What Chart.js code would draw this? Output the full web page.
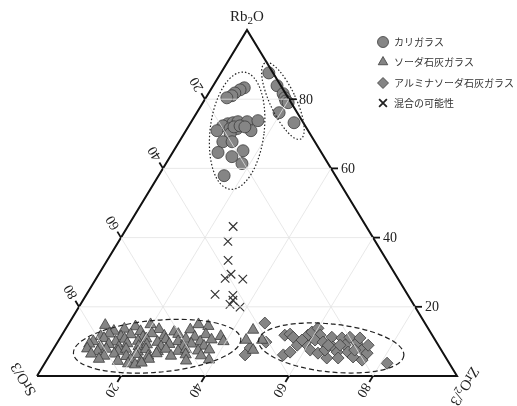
<!DOCTYPE html>
<html>
<head>
<meta charset="utf-8">
<script src="https://cdn.jsdelivr.net/npm/chart.js@4.4.0/dist/chart.umd.min.js"></script>
<style>
  html, body { margin: 0; padding: 0; background: #fff; }
  #wrap { width: 517px; height: 406px; }
</style>
</head>
<body>
<div id="wrap"><canvas id="ternary" width="517" height="406"></canvas></div>
<script>
// ternary data: each point is [Rb2O, ZrO2/3] in %, SrO/3 = 100 - both
const categories = ['カリガラス', 'ソーダ石灰ガラス', 'アルミナソーダ石灰ガラス', '混合の可能性'];
const ticks = [20, 40, 60, 80];

const potashGlass = [
  [87.6, 11.4], [83.9, 15.2], [81.6, 17.8], [80.4, 18.8], [79.5, 19.5], [79.0, 20.3], [76.1, 19.6], [73.2, 24.6],
  [83.3, 7.7], [82.7, 7.0], [81.8, 6.2], [81.0, 5.9], [80.4, 5.0],
  [72.9, 9.0], [72.3, 8.1], [73.2, 10.1], [73.5, 11.1], [73.5, 13.3], [73.8, 15.7],
  [70.9, 7.4], [71.5, 10.2], [71.5, 11.9], [70.9, 15.5], [70.0, 11.0],
  [72.0, 10.9], [72.3, 12.2], [72.0, 13.5],
  [67.7, 10.4], [67.7, 12.6], [65.1, 16.5], [64.6, 10.8], [63.4, 14.7], [61.4, 18.1], [57.9, 15.6]
];

const sodaLimeGlass = [
  [14.7, 8.9], [14.3, 16.3], [14.9, 19.6], [14.9, 31.0], [14.4, 33.6],
  [13.0, 11.8], [13.6, 14.0], [12.9, 18.2], [13.5, 22.3], [12.8, 26.3], [13.4, 29.8],
  [11.5, 9.4], [12.2, 11.1], [11.4, 14.3], [12.0, 16.3], [11.3, 19.6], [12.3, 21.2], [11.6, 24.5],
  [12.1, 27.6], [11.3, 31.9], [12.0, 34.2], [11.5, 38.0],
  [10.0, 8.4], [10.9, 10.5], [9.9, 13.8], [10.7, 15.5], [10.1, 19.0], [10.8, 20.6], [9.8, 23.8],
  [10.6, 25.4], [10.0, 28.6], [10.7, 30.1], [9.9, 33.9], [10.5, 36.3], [10.0, 39.4],
  [9.3, 7.8], [8.5, 10.9], [9.2, 12.5], [8.4, 15.3], [9.4, 16.8], [8.6, 19.9], [9.1, 21.6],
  [8.5, 25.3], [9.2, 26.9], [8.6, 30.5], [9.3, 32.1], [8.7, 35.4],
  [7.9, 8.0], [7.1, 10.9], [7.8, 12.6], [7.2, 15.7], [7.8, 17.3], [7.0, 20.5], [7.7, 22.1],
  [7.1, 25.2], [7.8, 26.8], [7.2, 30.0], [7.7, 31.6], [7.3, 34.7], [7.6, 37.2],
  [6.4, 9.7], [5.8, 13.1], [6.4, 15.2], [5.7, 18.4], [6.3, 20.4], [5.8, 23.6], [6.5, 25.2],
  [5.8, 29.0], [6.2, 32.3], [5.9, 36.1],
  [4.9, 12.3], [4.3, 17.1], [4.8, 19.9], [4.2, 22.6], [4.9, 24.2], [4.4, 33.3], [4.7, 38.6],
  [3.6, 19.9], [3.3, 21.7], [3.8, 23.0],
  [10.4, 44.6], [13.3, 44.8], [10.4, 48.4], [7.5, 47.7]
];

const aluminaSodaLimeGlass = [
  [15.3, 46.6], [6.1, 55.6], [6.9, 56.8], [11.8, 53.1], [12.1, 54.2], [11.2, 55.4], [8.9, 57.5],
  [9.5, 59.1], [11.8, 58.6], [12.7, 59.1], [13.8, 60.0], [11.8, 61.5], [10.4, 61.0], [9.8, 63.2],
  [7.5, 61.3], [6.6, 63.6], [5.2, 66.4], [11.2, 64.6], [8.4, 66.3], [6.9, 68.0], [11.0, 67.1],
  [8.9, 68.9], [11.2, 68.9], [6.9, 70.6], [5.5, 72.5], [9.5, 71.4], [11.0, 71.4], [7.5, 73.6],
  [6.6, 75.3], [8.9, 74.4], [4.6, 75.1], [7.5, 64.8], [5.2, 69.1], [3.7, 81.5],
  [9.8, 49.6], [6.1, 46.5], [8.1, 46.7],
  [10.4, 57.9], [8.9, 64.9], [8.9, 67.7], [7.5, 71.9]
];

const mixedGlass = [
  [43.2, 25.1], [38.9, 26.0], [33.4, 28.8], [29.4, 31.5], [28.2, 30.7], [28.0, 35.0],
  [23.6, 30.6], [23.3, 35.0], [21.9, 35.7], [20.7, 35.6], [19.9, 38.4]
];

// ternary -> cartesian plot units (base 0..100, height 0..100)
function toXY(p) {
  return { x: p[1] + p[0] / 2, y: p[0] };
}

// group outlines: centre as [Rb2O, ZrO2/3], radii in px, rotation in deg
const groupOutlines = [
  { at: [70.9, 12.2], rx: 27, ry: 59, rot: 7, dash: [1.5, 2] },
  { at: [79.5, 18.8], rx: 13, ry: 42, rot: -25, dash: [1.5, 2] },
  { at: [8.6, 24.3], rx: 84, ry: 26, rot: -5, dash: [5, 3] },
  { at: [8.1, 66.0], rx: 73, ry: 24, rot: 6, dash: [5, 3] }
];

const markerFill = '#858585';
const markerEdge = '#3c3c3c';

const gridSets = [];
ticks.forEach(v => {
  [[[v, 0], [v, 100 - v]], [[0, v], [100 - v, v]], [[0, 100 - v], [100 - v, 0]]].forEach(seg => {
    gridSets.push({
      data: seg.map(toXY), showLine: true, borderColor: '#e2e2e2', borderWidth: 0.8,
      pointRadius: 0, clip: false
    });
  });
});

const frame = {
  data: [[0, 0], [0, 100], [100, 0], [0, 0]].map(toXY), showLine: true,
  borderColor: '#111', borderWidth: 2, pointRadius: 0, clip: false
};

const series = [
  { label: categories[0], data: potashGlass.map(toXY), pointStyle: 'circle', pointRadius: 6,
    backgroundColor: markerFill, borderColor: markerEdge, borderWidth: 0.8, clip: false },
  { label: categories[1], data: sodaLimeGlass.map(toXY), pointStyle: 'triangle', pointRadius: 6.5,
    backgroundColor: markerFill, borderColor: markerEdge, borderWidth: 0.8, clip: false },
  { label: categories[2], data: aluminaSodaLimeGlass.map(toXY), pointStyle: 'rectRot', pointRadius: 6,
    backgroundColor: markerFill, borderColor: markerEdge, borderWidth: 0.8, clip: false },
  { label: categories[3], data: mixedGlass.map(toXY), pointStyle: 'crossRot', pointRadius: 6,
    backgroundColor: '#333', borderColor: '#333', borderWidth: 1.2, clip: false }
];

const serif = '"Liberation Serif", "Times New Roman", serif';

function richText(ctx, parts, x, y, size) {
  // parts: [text, isSub], drawn centred on x
  const subFont = Math.round(size * 0.7) + 'px ' + serif;
  const mainFont = size + 'px ' + serif;
  let total = 0;
  parts.forEach(([t, sub]) => {
    ctx.font = sub ? subFont : mainFont;
    total += ctx.measureText(t).width;
  });
  let cx = x - total / 2;
  parts.forEach(([t, sub]) => {
    ctx.font = sub ? subFont : mainFont;
    ctx.fillText(t, cx, y + (sub ? size * 0.25 : 0));
    cx += ctx.measureText(t).width;
  });
}

const ternaryDecor = {
  id: 'ternaryDecor',
  afterDatasetsDraw(chart) {
    const ctx = chart.ctx;
    const xs = chart.scales.x, ys = chart.scales.y;
    const pix = p => { const q = toXY(p); return [xs.getPixelForValue(q.x), ys.getPixelForValue(q.y)]; };

    // group outlines
    ctx.save();
    ctx.strokeStyle = '#222';
    ctx.lineWidth = 1.2;
    groupOutlines.forEach(o => {
      const [cx, cy] = pix(o.at);
      ctx.setLineDash(o.dash);
      ctx.beginPath();
      ctx.ellipse(cx, cy, o.rx, o.ry, o.rot * Math.PI / 180, 0, Math.PI * 2);
      ctx.stroke();
    });
    ctx.restore();

    // ticks and tick labels on the three sides
    const sides = [
      v => [[v, 100 - v], [v, 0]],          // Rb2O, right side
      v => [[0, v], [100 - v, v]],          // ZrO2/3, bottom
      v => [[100 - v, 0], [0, 100 - v]]     // SrO/3, left side
    ];
    ctx.save();
    ctx.strokeStyle = '#111';
    ctx.fillStyle = '#222';
    ctx.lineWidth = 1.8;
    ctx.font = '14px ' + serif;
    ctx.textAlign = 'left';
    ctx.textBaseline = 'middle';
    sides.forEach(side => {
      ticks.forEach(v => {
        const [a, b] = side(v);
        const p0 = pix(a), p1 = pix(b);
        let dx = p0[0] - p1[0], dy = p0[1] - p1[1];
        const len = Math.hypot(dx, dy);
        dx /= len; dy /= len;
        ctx.beginPath();
        ctx.moveTo(p0[0], p0[1]);
        ctx.lineTo(p0[0] + dx * 7, p0[1] + dy * 7);
        ctx.stroke();
        ctx.save();
        ctx.translate(p0[0] + dx * 10, p0[1] + dy * 10);
        ctx.rotate(Math.atan2(dy, dx));
        ctx.fillText(String(v), 0, 1);
        ctx.restore();
      });
    });
    ctx.restore();

    // axis titles at the vertices
    ctx.save();
    ctx.fillStyle = '#222';
    ctx.textAlign = 'left';
    ctx.textBaseline = 'middle';
    const top = pix([100, 0]), left = pix([0, 0]), right = pix([0, 100]);
    richText(ctx, [['Rb', false], ['2', true], ['O', false]], top[0], top[1] - 13, 15);
    ctx.save();
    ctx.translate(left[0] - 13, left[1] + 3);
    ctx.rotate(239 * Math.PI / 180);
    richText(ctx, [['SrO/3', false]], 0, 0, 15);
    ctx.restore();
    ctx.save();
    ctx.translate(right[0] + 7, right[1] + 10);
    ctx.rotate(121 * Math.PI / 180);
    richText(ctx, [['ZrO', false], ['2', true], ['/3', false]], 0, 0, 15);
    ctx.restore();
    ctx.restore();

    // legend
    ctx.save();
    const rows = [42, 62, 83, 103];
    series.forEach((ds, i) => {
      const opts = { pointStyle: ds.pointStyle, radius: 5.5, borderWidth: ds.borderWidth };
      ctx.fillStyle = ds.backgroundColor;
      ctx.strokeStyle = ds.borderColor;
      ctx.lineWidth = ds.borderWidth;
      if (ds.pointStyle === 'crossRot') { ctx.lineWidth = 1.8; ctx.strokeStyle = '#222'; }
      Chart.helpers.drawPoint(ctx, opts, 383, rows[i]);
      ctx.fillStyle = '#333';
      ctx.font = '10px "Noto Sans CJK JP", sans-serif';
      ctx.textAlign = 'left';
      ctx.textBaseline = 'middle';
      ctx.fillText(ds.label, 394, rows[i]);
    });
    ctx.restore();
  }
};

new Chart(document.getElementById('ternary'), {
  type: 'scatter',
  data: { datasets: [...gridSets, frame, ...series] },
  options: {
    responsive: false,
    animation: false,
    events: [],
    devicePixelRatio: 1,
    layout: { padding: { left: 37, right: 60, top: 30, bottom: 30 } },
    scales: {
      x: { type: 'linear', min: 0, max: 100, display: false },
      y: { type: 'linear', min: 0, max: 100, display: false }
    },
    plugins: { legend: { display: false }, tooltip: { enabled: false } },
    elements: { line: { tension: 0 } }
  },
  plugins: [ternaryDecor]
});
</script>
</body>
</html>
